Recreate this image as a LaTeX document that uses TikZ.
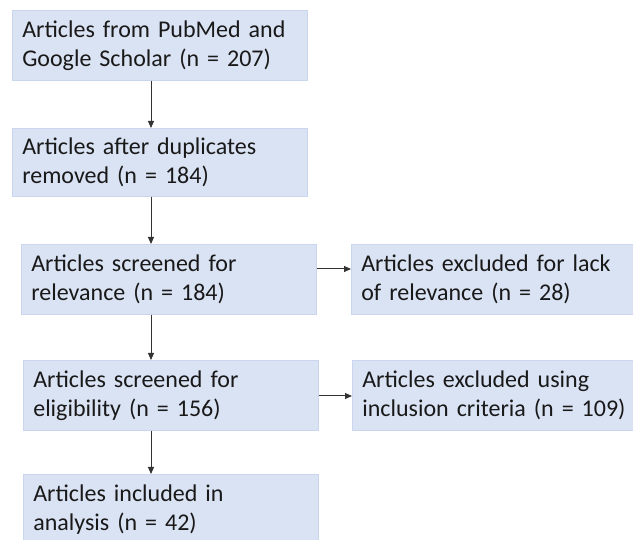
\documentclass[tikz,border=0pt]{standalone}
\usepackage{fontspec}
\setmainfont{Carlito}
\usetikzlibrary{arrows.meta}
\definecolor{boxfill}{HTML}{DAE3F3}
\definecolor{boxline}{HTML}{CAD6EE}
\begin{document}
\begin{tikzpicture}[x=1pt,y=1pt,
  box/.style={draw=boxline, line width=0.6pt, fill=boxfill, anchor=north west,
    inner xsep=10pt, inner ysep=0pt, align=left,
    font=\fontsize{24}{29}\selectfont, text=black!90},
  arr/.style={-{Triangle[length=7pt,width=6pt]}, line width=1pt, draw=black!80}]
\useasboundingbox (0,0) rectangle (633,540);
\node[box, text width=275, minimum height=70] (b1) at (12,530) {Articles from PubMed and\\Google Scholar (n = 207)};
\node[box, text width=275, minimum height=68] (b2) at (12,412) {Articles after duplicates\\removed (n = 184)};
\node[box, text width=275, minimum height=70] (b3) at (21,296) {Articles screened for\\relevance (n = 184)};
\node[box, text width=270, minimum height=70] (b4) at (351,296) {Articles excluded for lack\\of relevance (n = 28)};
\node[box, text width=275, minimum height=70] (b5) at (23,180) {Articles screened for\\eligibility (n = 156)};
\node[box, text width=270, minimum height=70] (b6) at (352,180) {Articles excluded using\\inclusion criteria (n = 109)};
\node[box, text width=275, minimum height=70] (b7) at (23,66) {Articles included in\\analysis (n = 42)};
\coordinate (ax) at (151,0);
\coordinate (hy1) at (0,271);
\coordinate (hy2) at (0,144);
\draw[arr] (b1.south -| ax) -- (b2.north -| ax);
\draw[arr] (b2.south -| ax) -- (b3.north -| ax);
\draw[arr] (b3.south -| ax) -- (b5.north -| ax);
\draw[arr] (b5.south -| ax) -- (b7.north -| ax);
\draw[arr] (b3.east |- hy1) -- (b4.west |- hy1);
\draw[arr] (b5.east |- hy2) -- (b6.west |- hy2);
\end{tikzpicture}
\end{document}
